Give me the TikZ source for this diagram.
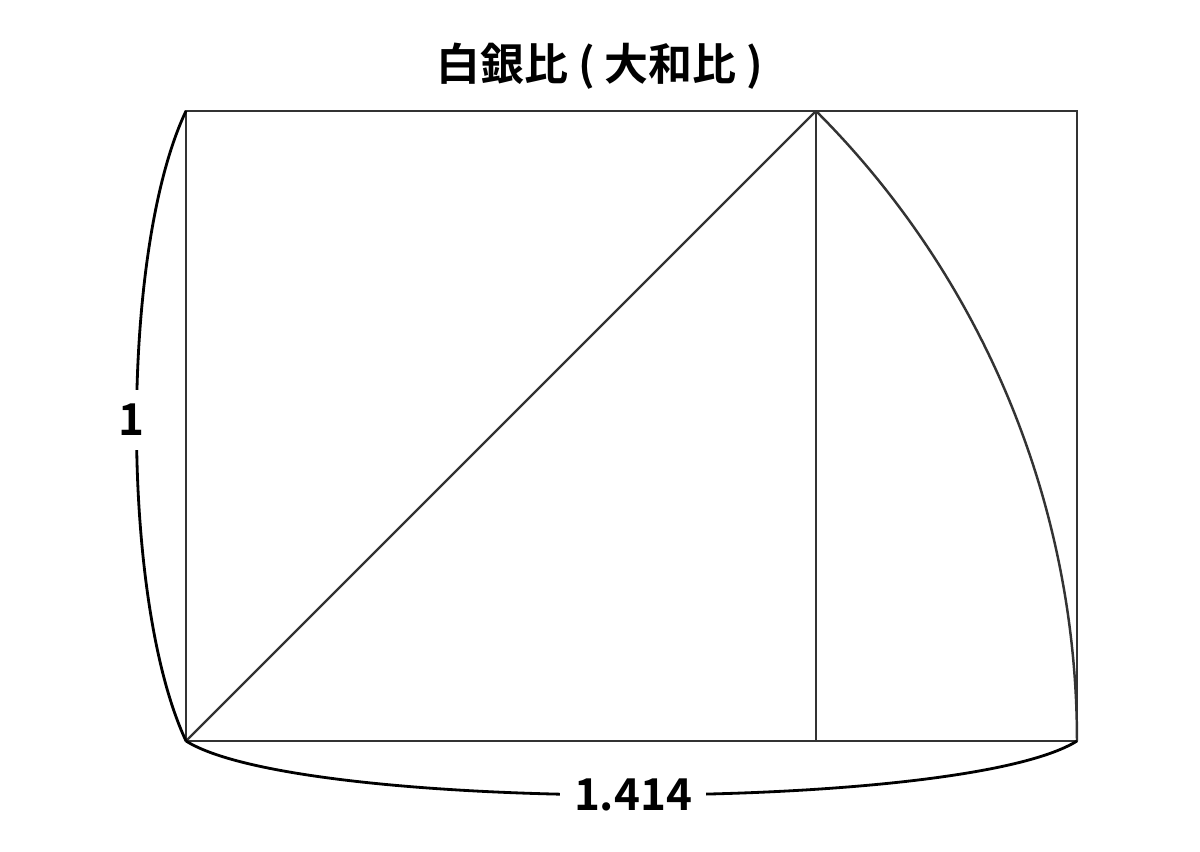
\documentclass[tikz,border=0pt]{standalone}
\usepackage{fontspec}
\setmainfont{Noto Sans CJK JP}[BoldFont={* Bold}]
\definecolor{linegray}{HTML}{333333}
\tikzset{
  frame/.style={draw=linegray, line width=1.3pt},
  brace/.style={draw=black, line width=1.6pt},
  label/.style={fill=white, inner sep=0.28cm, font=\fontsize{25}{30}\selectfont\bfseries}
}
\begin{document}
\begin{tikzpicture}
    \useasboundingbox (0,0) rectangle (24,17.04);
    \coordinate (A) at (3.72,2.22);
    \coordinate (B) at (21.54,2.22);
    \coordinate (C) at (21.54,14.82);
    \coordinate (D) at (3.72,14.82);
    \coordinate (E) at (16.32,14.82);
    \coordinate (F) at (16.32,2.22);
    \draw[frame] (A) -- (B) -- (C) -- (D) -- cycle;
    \draw[frame] (E) -- (F);
    \draw[frame] (A) -- (E);
    \draw[frame, line width=1.4pt] (E) arc[start angle=45, end angle=0, radius=17.82];
    \draw[brace] (D) .. controls (2.4,12.04) and (2.4,5.04) .. (A);
    \draw[brace] (A) .. controls (6.0,0.78) and (19.24,0.78) .. (B);
    \node[label] (one) at (2.62,8.64) {1};
    \node[label] (ratio) at (12.66,1.14) {1.414};
    \node[font=\fontsize{25}{30}\selectfont\bfseries, anchor=center] (title) at (12,15.72) {白銀比 ( 大和比 )};
\end{tikzpicture}
\end{document}
